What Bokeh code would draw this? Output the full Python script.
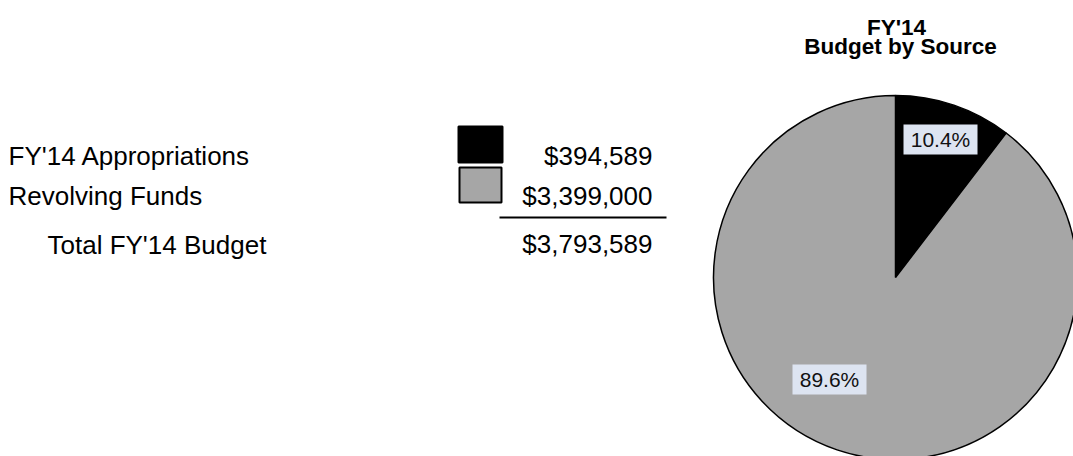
import math
from bokeh.plotting import figure
from bokeh.models import Range1d, ColumnDataSource
from bokeh.core.properties import value
from bokeh.embed import file_html
from bokeh.resources import INLINE

# ---- data ----
categories = ["FY'14 Appropriations", "Revolving Funds"]
amounts = [394589, 3399000]
slice_colors = ["#000000", "#a6a6a6"]
total_label = "Total FY'14 Budget"
title_lines = ["FY'14", "Budget by Source"]

total = sum(amounts)
fracs = [a / total for a in amounts]
pct_labels = [f"{f * 100:.1f}%" for f in fracs]
money_labels = [f"${a:,}" for a in amounts]
total_money = f"${total:,}"

# ---- layout (reference pixel coords, y down) ----
W, H = 1073, 456
FONT = value("Liberation Sans")
BODY = value("26px")


def Y(y):
    return H - y


p = figure(width=W, height=H, output_backend="svg", toolbar_location=None,
           x_range=Range1d(0, W), y_range=Range1d(0, H),
           min_border=0, outline_line_color=None)
p.axis.visible = False
p.grid.visible = False
p.background_fill_color = "white"
p.border_fill_color = "white"

# ---- pie ----
cx, cy, r = 895, Y(277), 182
angles = [math.pi / 2]
for f in fracs:
    angles.append(angles[-1] - f * 2 * math.pi)
src = ColumnDataSource(dict(
    start=[angles[i + 1] for i in range(len(fracs))],
    end=[angles[i] for i in range(len(fracs))],
    color=slice_colors))
p.wedge(x=cx, y=cy, radius=r, start_angle="start", end_angle="end",
        direction="anticlock", fill_color="color", line_color="black",
        line_width=1.5, source=src)

# percentage labels with light boxes
label_pos = [(940, 139), (829, 379)]
lsrc = ColumnDataSource(dict(x=[lp[0] for lp in label_pos],
                             y=[Y(lp[1]) for lp in label_pos],
                             t=pct_labels))
p.rect(x="x", y="y", width=74, height=30, fill_color="#dde4f1",
       line_color=None, source=lsrc)
p.text(x="x", y="y", text="t", text_align="center", text_baseline="middle",
       text_font=FONT, text_font_size=value("21px"), text_color="#111111",
       source=lsrc)

# title
p.text(x=[896, 900], y=[Y(27), Y(46)], text=title_lines, text_align="center",
       text_baseline="alphabetic", text_font=FONT, text_font_size=value("22.5px"),
       text_font_style="bold", text_color="black")

# ---- table on the left ----
row_base = [155, 195]
p.text(x=[8] * len(categories), y=[Y(b) for b in row_base], text=categories,
       text_align="left", text_baseline="alphabetic", text_font=FONT,
       text_font_size=BODY, text_color="black")
p.text(x=[652] * len(money_labels), y=[Y(b) for b in row_base], text=money_labels,
       text_align="right", text_baseline="alphabetic", text_font=FONT,
       text_font_size=BODY, text_color="black")

# legend squares
sq_top = [126, 167]
sq_bot = [162, 202]
p.quad(left=[458, 459], right=[502, 501], top=[Y(t) for t in sq_top],
       bottom=[Y(b) for b in sq_bot], fill_color=slice_colors,
       line_color="black", line_width=2)

# separator and total
p.segment(x0=[499], y0=[Y(217)], x1=[666], y1=[Y(217)], line_color="black",
          line_width=2)
p.text(x=[47], y=[Y(244)], text=[total_label], text_align="left",
       text_baseline="alphabetic", text_font=FONT, text_font_size=BODY,
       text_color="black")
p.text(x=[652], y=[Y(243)], text=[total_money], text_align="right",
       text_baseline="alphabetic", text_font=FONT, text_font_size=BODY,
       text_color="black")

open("out.html", "w").write(file_html(p, INLINE))
